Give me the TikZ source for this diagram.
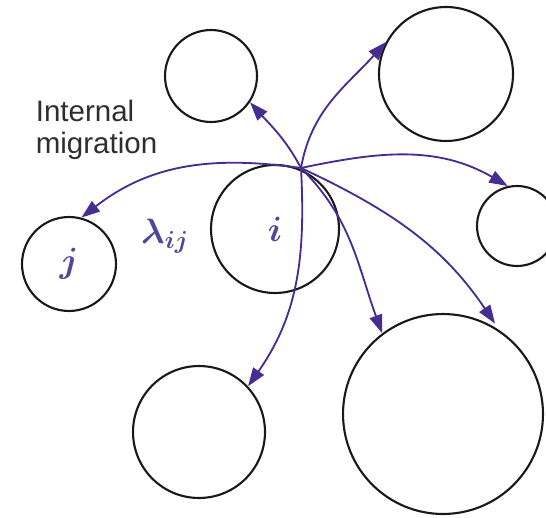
\RequirePackage{fix-cm}
\documentclass[tikz,border=0pt]{standalone}
\usepackage{bm}
\usepackage{fontspec}
\setsansfont{Liberation Sans}
\usetikzlibrary{arrows.meta}
\definecolor{migr}{RGB}{72,45,145}
\definecolor{lab}{RGB}{78,72,152}
\definecolor{txt}{RGB}{45,45,50}
\tikzset{
  region/.style={circle, draw=black!90, line width=1.2pt, inner sep=0pt},
  flow/.style={draw=migr, line width=1.05pt, -{Triangle[length=0.37cm,width=0.26cm]}},
  lbl/.style={text=lab, font=\fontsize{20}{24}\selectfont}
}
\begin{document}
\begin{tikzpicture}[x=0.02cm, y=0.02cm]
				\clip (0,0) rectangle (546,517);
				\path
				(301,349) coordinate (src)
				;
				
				\node[region, lbl, minimum size=1.88cm] (j) at (69,253) {$\bm{j}$};
				\node[region, lbl, minimum size=2.56cm] (i) at (275,288) {$\bm{i}$};
				\node[region, minimum size=1.84cm] (tl) at (211,441) {};
				\node[region, minimum size=2.68cm] (tr) at (446,443) {};
				\node[region, minimum size=1.6cm] (rs) at (517,291) {};
				\node[region, minimum size=2.64cm] (bl) at (199,85) {};
				\node[region, minimum size=4cm] (br) at (443,103) {};
				
				\node[lbl] (rate) at (165,281) {$\bm{\lambda}_{\bm{ij}}$};
				\node[font=\sffamily\fontsize{16.8}{18.2}\selectfont, text=txt, align=left, anchor=north west, inner sep=0pt] (intmig) at (35.5,417) {Internal\\migration};
				
				\draw[flow] (src) to[out=172, in=38] (j.75);
				\draw[flow] (src) to[out=118, in=-48] (tl.-34);
				\draw[flow] (src) to[out=80, in=-132] (tr.152);
				\draw[flow] (src) to[out=12, in=150] (rs.103);
				\draw[flow] (src) to[out=-45, in=110] (br.127);
				\draw[flow, shorten >=0.16cm] (src) to[out=-25, in=124] (br.56);
				\draw[flow] (src) to[out=-87, in=55] (bl.43);
				
\end{tikzpicture}
\end{document}
